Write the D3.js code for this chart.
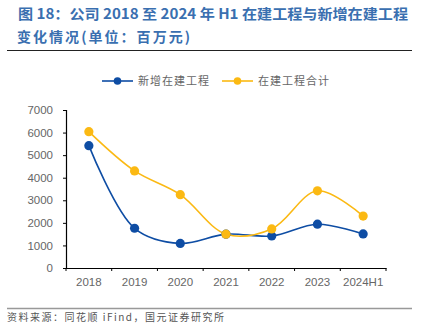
<!DOCTYPE html>
<html>
<head>
<meta charset="utf-8">
<script src="https://cdn.jsdelivr.net/npm/d3@7"></script>
<style>
  body { margin: 0; background: #fff; }
  svg { display: block; }
</style>
</head>
<body>
<div id="chart"></div>
<script>
// 数据
const years = ['2018', '2019', '2020', '2021', '2022', '2023', '2024H1'];
const newCip = [5420, 1760, 1090, 1500, 1420, 1940, 1510];     // 新增在建工程
const totalCip = [6040, 4300, 3250, 1500, 1730, 3420, 2300];   // 在建工程合计
const yTicks = [0, 1000, 2000, 3000, 4000, 5000, 6000, 7000];

const width = 432, height = 335;
const blue = '#0E4DA4', orange = '#FBB913';
const cjk = '"Noto Sans CJK SC", "Noto Sans", sans-serif';

const svg = d3.select('#chart').append('svg')
    .attr('width', width)
    .attr('height', height);

// 标题
const title = svg.append('g')
    .attr('fill', '#3A6FB0')
    .attr('font-family', cjk)
    .attr('font-weight', 'bold')
    .attr('font-size', 14);
title.append('text').attr('x', 18).attr('y', 19)
    .attr('textLength', 390).attr('lengthAdjust', 'spacingAndGlyphs')
    .text('图 18：公司 2018 至 2024 年 H1 在建工程与新增在建工程');
title.append('text').attr('x', 17).attr('y', 42)
    .attr('textLength', 173).attr('lengthAdjust', 'spacing')
    .text('变化情况(单位：百万元)');

svg.append('line')
    .attr('x1', 7).attr('x2', 412).attr('y1', 50.5).attr('y2', 50.5)
    .attr('stroke', '#222').attr('stroke-width', 1);

// 比例尺
const x = d3.scaleBand().domain(years).range([66, 386]);
const y = d3.scaleLinear().domain([0, 7000]).range([268, 110]);

// 坐标轴
const yAxis = svg.append('g')
    .attr('transform', 'translate(66,0)')
    .call(d3.axisLeft(y).tickValues(yTicks).tickSize(3).tickPadding(10).tickFormat(d3.format('d')));
const xAxis = svg.append('g')
    .attr('transform', 'translate(0,268)')
    .call(d3.axisBottom(x).tickSize(0).tickPadding(10));

[yAxis, xAxis].forEach(a => {
    a.select('.domain').attr('stroke', '#000').attr('stroke-width', 1.2);
    a.selectAll('.tick line').attr('stroke', '#000');
    a.selectAll('text')
        .attr('fill', '#666')
        .attr('font-family', 'Liberation Sans, Arial, sans-serif')
        .attr('font-size', 11.5);
});

// x 轴刻度在分类边界
xAxis.selectAll('.bound')
    .data(years.map(d => x(d)).concat([x.range()[1]]))
    .enter().append('line')
    .attr('x1', d => d).attr('x2', d => d)
    .attr('y1', 0).attr('y2', 3)
    .attr('stroke', '#000');

// 折线
const line = d3.line()
    .x((d, i) => x(years[i]) + x.bandwidth() / 2)
    .y(d => y(d))
    .curve(d3.curveCatmullRom.alpha(0.5));

const series = [
    { name: '新增在建工程', values: newCip, color: blue },
    { name: '在建工程合计', values: totalCip, color: orange }
];

series.forEach(s => {
    svg.append('path')
        .datum(s.values)
        .attr('d', line)
        .attr('fill', 'none')
        .attr('stroke', s.color)
        .attr('stroke-width', 1.6);
});

series.forEach(s => {
    svg.append('g').selectAll('circle')
        .data(s.values)
        .enter().append('circle')
        .attr('cx', (d, i) => x(years[i]) + x.bandwidth() / 2)
        .attr('cy', d => y(d))
        .attr('r', 4.6)
        .attr('fill', s.color);
});

// 图例
const legendX = [102, 222];
series.forEach((s, i) => {
    const g = svg.append('g').attr('transform', `translate(${legendX[i]},81)`);
    g.append('line').attr('x1', 0).attr('x2', 31).attr('stroke', s.color).attr('stroke-width', 1.6);
    g.append('circle').attr('cx', 15.5).attr('r', 3.8).attr('fill', s.color);
    g.append('text')
        .attr('x', 36).attr('y', 4)
        .attr('fill', '#666')
        .attr('font-family', cjk)
        .attr('font-size', 11)
        .attr('letter-spacing', 1)
        .text(s.name);
});

// 来源
svg.append('line')
    .attr('x1', 7).attr('x2', 412).attr('y1', 308.5).attr('y2', 308.5)
    .attr('stroke', '#999').attr('stroke-width', 1.5);
svg.append('text')
    .attr('x', 7).attr('y', 321)
    .attr('fill', '#555')
    .attr('font-family', cjk)
    .attr('font-size', 10)
    .attr('letter-spacing', 1.5)
    .text('资料来源：同花顺 iFind，国元证券研究所');
</script>
</body>
</html>
